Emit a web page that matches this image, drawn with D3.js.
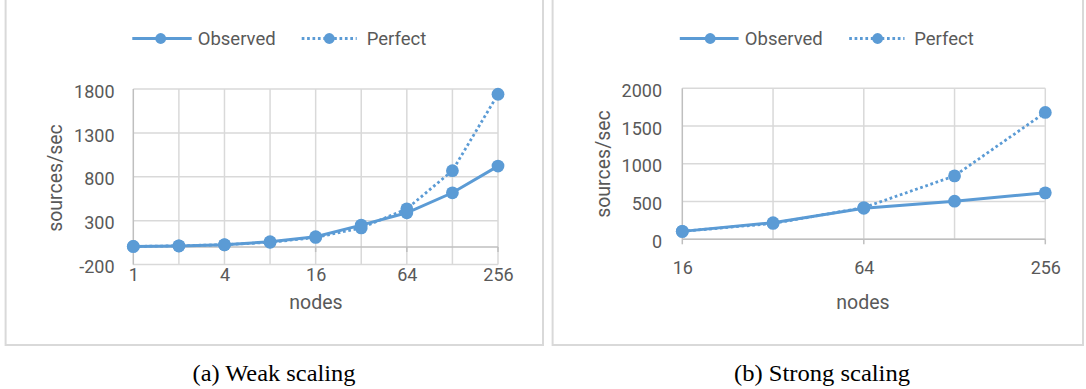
<!DOCTYPE html>
<html>
<head>
<meta charset="utf-8">
<script src="https://cdn.jsdelivr.net/npm/d3@7"></script>
<style>
body { margin: 0; background: #fff; }
svg { display: block; }
</style>
</head>
<body>
<script>
// (a) weak scaling
const weakNodes = [1, 2, 4, 8, 16, 32, 64, 128, 256];
const weakObserved = [7, 12, 25, 60, 117, 250, 390, 618, 922];
const weakPerfect = [7, 14, 27, 54, 109, 218, 435, 870, 1740];
const weakYTicks = [-200, 300, 800, 1300, 1800];
const weakXTicks = [1, 4, 16, 64, 256];

// (b) strong scaling
const strongNodes = [16, 32, 64, 128, 256];
const strongObserved = [105, 220, 410, 505, 615];
const strongPerfect = [105, 210, 420, 840, 1680];
const strongYTicks = [0, 500, 1000, 1500, 2000];
const strongXTicks = [16, 64, 256];

const seriesNames = ['Observed', 'Perfect'];
const captions = ['(a) Weak scaling', '(b) Strong scaling'];

const blue = '#5B9BD5';
const gridColor = '#d9d9d9';
const axisColor = '#bfbfbf';
const textColor = '#595959';
const font = 'Roboto, sans-serif';

const svg = d3.select('body')
  .append('svg')
  .attr('width', 1086)
  .attr('height', 389);

const panels = [
  {
    nodes: weakNodes, observed: weakObserved, perfect: weakPerfect,
    yTicks: weakYTicks, xTicks: weakXTicks, caption: captions[0],
    box: [5.6, -2, 543, 345],
    xRange: [133.3, 498], yDomain: [-200, 1800], yRange: [264.6, 89],
    yLabelEnd: 114.5, xLabelY: 274.5,
    yTitle: [55, 178], xTitle: [316, 301.5],
    legend: {y: 38.5, obs: [132.3, 191.7, 160.7, 197.7], perf: [301.7, 356.7, 329.3, 366.7]},
    captionX: 274, captionW: 163
  },
  {
    nodes: strongNodes, observed: strongObserved, perfect: strongPerfect,
    yTicks: strongYTicks, xTicks: strongXTicks, caption: captions[1],
    box: [552.6, -2, 1083, 345],
    xRange: [682.3, 1045.3], yDomain: [0, 2000], yRange: [239.3, 88.3],
    yLabelEnd: 662, xLabelY: 267.3,
    yTitle: [602.7, 164], xTitle: [863, 301.5],
    legend: {y: 38.5, obs: [679.8, 738.6, 710.2, 744.8], perf: [849.2, 904.5, 877.6, 914.2]},
    captionX: 822, captionW: 176
  }
];

panels.forEach(drawPanel);

function drawPanel(p) {
  const g = svg.append('g');

  // frame
  g.append('rect')
    .attr('x', p.box[0]).attr('y', p.box[1])
    .attr('width', p.box[2] - p.box[0]).attr('height', p.box[3] - p.box[1])
    .attr('fill', 'none')
    .attr('stroke', gridColor)
    .attr('stroke-width', 2);

  const x = d3.scaleLog().base(2)
    .domain(d3.extent(p.nodes))
    .range(p.xRange);

  const y = d3.scaleLinear()
    .domain(p.yDomain)
    .range(p.yRange);

  const top = y(p.yDomain[1]), bottom = y(p.yDomain[0]);

  // gridlines
  g.selectAll('.hgrid').data(p.yTicks)
    .enter().append('line')
    .attr('class', 'hgrid')
    .attr('x1', p.xRange[0]).attr('x2', p.xRange[1])
    .attr('y1', d => y(d)).attr('y2', d => y(d))
    .attr('stroke', gridColor).attr('stroke-width', 1.5);

  g.selectAll('.vgrid').data(p.nodes)
    .enter().append('line')
    .attr('class', 'vgrid')
    .attr('x1', d => x(d)).attr('x2', d => x(d))
    .attr('y1', top).attr('y2', bottom)
    .attr('stroke', (d, i) => i == 0 ? axisColor : gridColor)
    .attr('stroke-width', 1.5);

  // horizontal axis at zero with ticks
  g.append('line')
    .attr('x1', p.xRange[0]).attr('x2', p.xRange[1])
    .attr('y1', y(0)).attr('y2', y(0))
    .attr('stroke', axisColor).attr('stroke-width', 1.5);

  g.selectAll('.xtick').data(p.xTicks)
    .enter().append('line')
    .attr('x1', d => x(d)).attr('x2', d => x(d))
    .attr('y1', y(0)).attr('y2', y(0) + 5)
    .attr('stroke', axisColor).attr('stroke-width', 1.5);

  // y tick labels (plain hyphen for negatives, as in the source)
  const yAxis = g.append('g')
    .attr('transform', `translate(${p.xRange[0]},0)`)
    .call(d3.axisLeft(y).tickValues(p.yTicks).tickSize(0)
      .tickPadding(p.xRange[0] - p.yLabelEnd).tickFormat(d => String(d)));
  yAxis.select('.domain').remove();
  yAxis.selectAll('text')
    .attr('dy', '0.45em')
    .attr('fill', textColor)
    .style('font-family', font)
    .style('font-size', '18px');

  // x tick labels
  const xAxis = g.append('g')
    .attr('transform', `translate(0,${p.xLabelY})`)
    .call(d3.axisBottom(x).tickValues(p.xTicks).tickSize(0).tickFormat(d => String(d)));
  xAxis.select('.domain').remove();
  xAxis.selectAll('text')
    .attr('y', 0).attr('dy', '0.36em')
    .attr('fill', textColor)
    .style('font-family', font)
    .style('font-size', '18px');

  // axis titles
  g.append('text')
    .attr('transform', `translate(${p.yTitle[0]},${p.yTitle[1]}) rotate(-90)`)
    .attr('text-anchor', 'middle')
    .attr('dy', '0.36em')
    .attr('fill', textColor)
    .style('font-family', font).style('font-size', '19.5px')
    .text('sources/sec');

  g.append('text')
    .attr('x', p.xTitle[0]).attr('y', p.xTitle[1])
    .attr('text-anchor', 'middle')
    .attr('dy', '0.36em')
    .attr('fill', textColor)
    .style('font-family', font).style('font-size', '19.5px')
    .text('nodes');

  // series
  const line = d3.line()
    .x(d => x(d[0]))
    .y(d => y(d[1]));

  const series = [
    {name: seriesNames[0], values: p.observed, dash: null, leg: p.legend.obs},
    {name: seriesNames[1], values: p.perfect, dash: '2.7 2.7', leg: p.legend.perf}
  ];

  series.forEach(s => {
    const pts = p.nodes.map((n, i) => [n, s.values[i]]);
    g.append('path')
      .datum(pts)
      .attr('d', line)
      .attr('fill', 'none')
      .attr('stroke', blue)
      .attr('stroke-width', s.dash ? 2.8 : 3)
      .attr('stroke-dasharray', s.dash);

    g.selectAll(null).data(pts)
      .enter().append('circle')
      .attr('cx', d => x(d[0]))
      .attr('cy', d => y(d[1]))
      .attr('r', 6.4)
      .attr('fill', blue);

    // legend entry
    g.append('line')
      .attr('x1', s.leg[0]).attr('x2', s.leg[1])
      .attr('y1', p.legend.y).attr('y2', p.legend.y)
      .attr('stroke', blue)
      .attr('stroke-width', s.dash ? 2.8 : 3)
      .attr('stroke-dasharray', s.dash);
    g.append('circle')
      .attr('cx', s.leg[2]).attr('cy', p.legend.y)
      .attr('r', 5.4)
      .attr('fill', blue);
    g.append('text')
      .attr('x', s.leg[3]).attr('y', p.legend.y)
      .attr('dy', '0.36em')
      .attr('fill', textColor)
      .style('font-family', font).style('font-size', '18.5px')
      .text(s.name);
  });

  // caption
  svg.append('text')
    .attr('x', p.captionX).attr('y', 380.5)
    .attr('text-anchor', 'middle')
    .attr('textLength', p.captionW)
    .attr('lengthAdjust', 'spacingAndGlyphs')
    .attr('fill', '#000')
    .style('font-family', '"Liberation Serif", "Times New Roman", serif')
    .style('font-size', '23px')
    .text(p.caption);
}
</script>
</body>
</html>
